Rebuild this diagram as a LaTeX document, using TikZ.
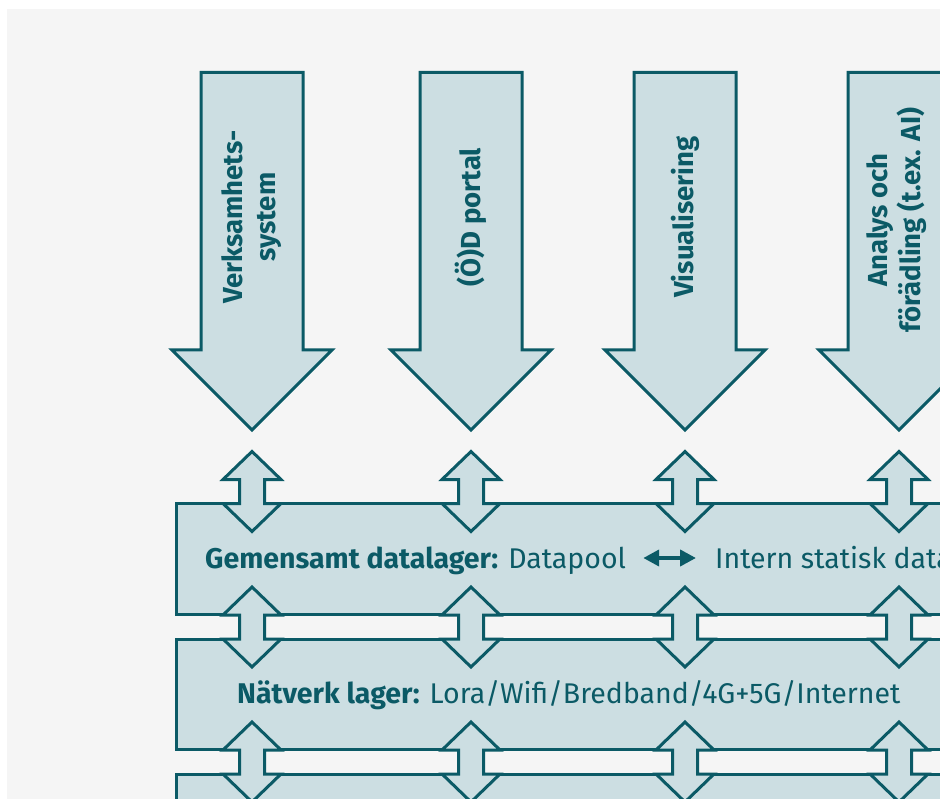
\documentclass[tikz,border=0pt]{standalone}
\usepackage{fontspec}
\setmainfont{Fira Sans}
\usetikzlibrary{arrows.meta}
\definecolor{dteal}{RGB}{11,90,102}
\definecolor{lfill}{RGB}{204,222,226}
\definecolor{bggray}{RGB}{245,245,245}
\begin{document}
\begin{tikzpicture}[x=1pt,y=-1pt,
  shapeline/.style={draw=dteal, fill=lfill, line width=3pt, line join=miter},
  lbl/.style={text=dteal, font=\fontsize{27.5}{33}\selectfont\bfseries, align=center, rotate=90, inner sep=0pt},
  rowtxt/.style={text=dteal, font=\fontsize{28.5}{33}\selectfont, inner sep=0pt, anchor=base west},
  smallarrow/.style={draw=dteal, line width=4.5pt, {Triangle[width=16pt,length=16pt]}-{Triangle[width=16pt,length=16pt]}}]
\useasboundingbox (0,0) rectangle (940,799);
\clip (0,0) rectangle (940,799);
\fill[white] (0,0) rectangle (940,799);
\fill[bggray] (7,9) rectangle (940,799);
% layer boxes
\draw[shapeline] (176,503.5) rectangle (1000,614.5);
\draw[shapeline] (176,639.5) rectangle (1000,749.5);
\draw[shapeline] (176,774.5) rectangle (1000,900);
% big arrows
\foreach \c in {252,471,685,899} {
  \draw[shapeline] ({\c-51},72.5) -- ({\c+51},72.5) -- ({\c+51},350) -- ({\c+80},350)
    -- (\c,430) -- ({\c-80},350) -- ({\c-51},350) -- cycle;
}
% double arrows
\foreach \c in {252,471,685,899} {
  \foreach \m in {491.5,627,762} {
    \draw[shapeline] (\c,{\m-40}) -- ({\c+29},{\m-12}) -- ({\c+12.5},{\m-12}) -- ({\c+12.5},{\m+12})
      -- ({\c+29},{\m+12}) -- (\c,{\m+40}) -- ({\c-29},{\m+12}) -- ({\c-12.5},{\m+12})
      -- ({\c-12.5},{\m-12}) -- ({\c-29},{\m-12}) -- cycle;
  }
}
% arrow labels
\node[lbl] (a1) at (252,217) {Verksamhets-\\system};
\node[lbl] (a2) at (471,217) {(Ö)D portal};
\node[lbl] (a3) at (685,217) {Visualisering};
\node[lbl] (a4) at (897,220) {Analys och\\förädling (t.ex. AI)};
% layer texts
\node[rowtxt] (dp) at (205,568) {\textbf{Gemensamt datalager:} Datapool};
\node[rowtxt] (in) at (715,568) {Intern statisk data};
\draw[smallarrow] ([xshift=17pt,yshift=10pt]dp.base east) -- ([xshift=-19pt,yshift=10pt]in.base west);
\node[rowtxt] (nv) at (237,703) {\textbf{Nätverk lager:} Lora/Wifi/Bredband/4G+5G/Internet};
\end{tikzpicture}
\end{document}
